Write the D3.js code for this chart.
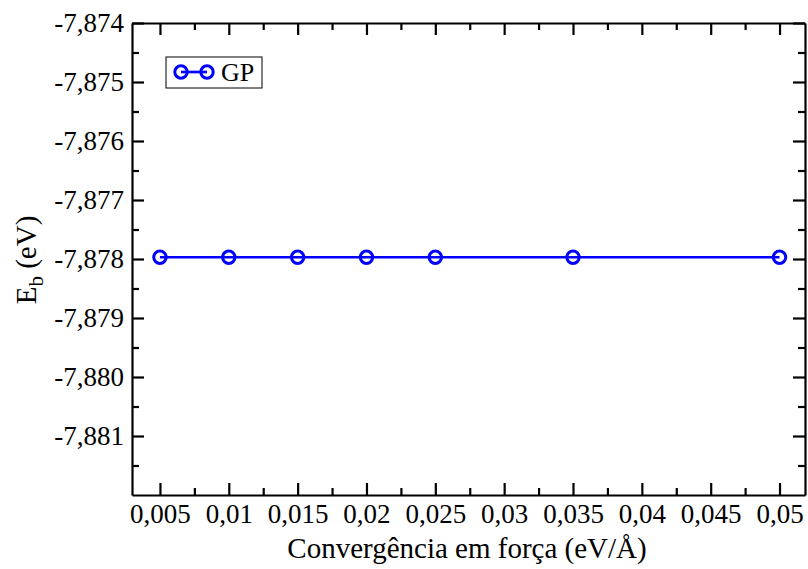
<!DOCTYPE html>
<html><head><meta charset="utf-8">
<script src="https://cdn.jsdelivr.net/npm/d3@7"></script>
<style>body{margin:0;background:#fff;} svg{display:block;}</style>
</head><body>
<svg id="c" width="808" height="569" font-family="Liberation Serif"></svg>
<script>
const xValues = [0.005, 0.01, 0.015, 0.02, 0.025, 0.035, 0.05];
const yValues = [-7.87797, -7.87797, -7.87797, -7.87797, -7.87797, -7.87797, -7.87797];
const xTicks = [0.005, 0.01, 0.015, 0.02, 0.025, 0.03, 0.035, 0.04, 0.045, 0.05];
const xMinor = [0.0075, 0.0125, 0.0175, 0.0225, 0.0275, 0.0325, 0.0375, 0.0425, 0.0475];
const yTicks = [-7.874, -7.875, -7.876, -7.877, -7.878, -7.879, -7.880, -7.881];
const yMinor = [-7.8745, -7.8755, -7.8765, -7.8775, -7.8785, -7.8795, -7.8805, -7.8815];
const seriesName = "GP";
const xTitle = "Convergência em força (eV/Å)";

const FONT = "'Liberation Serif', serif";
const L = 132, R = 805, T = 23, B = 495;
const svg = d3.select("#c");
const x = d3.scaleLinear().domain([0.00297, 0.05185]).range([L, R]);
const y = d3.scaleLinear().domain([-7.882, -7.874]).range([B, T]);
const fmt = d => String(d).replace(".", ",");
const fmtY = d => d.toFixed(3).replace(".", ",");

const g = svg.append("g");
function axis(gen, tr, ticks, minor, size, msize, labels) {
  const a = g.append("g").attr("transform", tr)
    .call(gen.tickValues(ticks).tickSizeInner(size).tickSizeOuter(0).tickPadding(labels ? 8 : 0).tickFormat(labels || (() => "")));
  a.attr("font-family", null).attr("font-size", null);
  a.select(".domain").attr("stroke", "#000").attr("stroke-width", 2.2);
  a.selectAll(".tick line").attr("stroke", "#000").attr("stroke-width", 2.2);
  a.selectAll("text").attr("fill", "#000").style("font-family", FONT).style("font-size", "27px");
  const m = g.append("g").attr("transform", tr)
    .call(gen.tickValues(minor).tickSizeInner(msize).tickSizeOuter(0).tickFormat(() => ""));
  m.select(".domain").remove();
  m.selectAll(".tick line").attr("stroke", "#000").attr("stroke-width", 2.2);
  return a;
}
const bx = axis(d3.axisBottom(x), `translate(0,${B})`, xTicks, xMinor, -12, -7, fmt);
bx.selectAll("text").attr("y", 9).attr("dy", "0.71em");
axis(d3.axisTop(x), `translate(0,${T})`, xTicks, xMinor, -12, -7, null);
const ly = axis(d3.axisLeft(y), `translate(${L},0)`, yTicks, yMinor, -12, -7, fmtY);
ly.selectAll("text").attr("x", -8);
axis(d3.axisRight(y), `translate(${R},0)`, yTicks, yMinor, -12, -7, null);

const data = xValues.map((v, i) => [v, yValues[i]]);
svg.append("path").datum(data)
  .attr("d", d3.line().x(d => x(d[0])).y(d => y(d[1])))
  .attr("fill", "none").attr("stroke", "#0000ff").attr("stroke-width", 2.7);
svg.selectAll("circle.pt").data(data).enter().append("circle").attr("class", "pt")
  .attr("cx", d => x(d[0])).attr("cy", d => y(d[1])).attr("r", 6.2)
  .attr("fill", "none").attr("stroke", "#0000ff").attr("stroke-width", 3);

const lg = svg.append("g");
lg.append("rect").attr("x", 166).attr("y", 57).attr("width", 96).attr("height", 31)
  .attr("fill", "#fff").attr("stroke", "#000").attr("stroke-width", 1);
lg.append("line").attr("x1", 181).attr("x2", 207).attr("y1", 72).attr("y2", 72)
  .attr("stroke", "#0000ff").attr("stroke-width", 2.7);
[181, 207].forEach(cx => lg.append("circle").attr("cx", cx).attr("cy", 72).attr("r", 6.2)
  .attr("fill", "none").attr("stroke", "#0000ff").attr("stroke-width", 3));
lg.append("text").attr("x", 221).attr("y", 81).style("font-family", FONT).style("font-size", "26px").text(seriesName);

svg.append("text").attr("x", 467).attr("y", 558).attr("text-anchor", "middle")
  .style("font-family", FONT).style("font-size", "29px").text(xTitle);
const yt = svg.append("text").attr("transform", `translate(36,260) rotate(-90)`)
  .attr("text-anchor", "middle").style("font-family", FONT).style("font-size", "29px");
yt.append("tspan").text("E");
yt.append("tspan").attr("dy", 7).style("font-size", "21px").text("b");
yt.append("tspan").attr("dy", -7).text(" (eV)");
</script>
</body></html>
